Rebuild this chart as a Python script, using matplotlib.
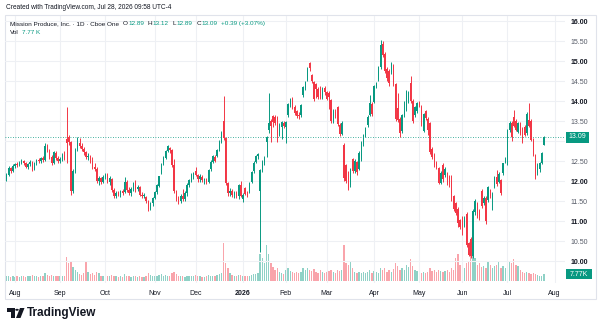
import matplotlib.pyplot as plt
from matplotlib.patches import Rectangle, Circle, Polygon

plt.rcParams['font.family'] = ['Liberation Sans', 'DejaVu Sans']

W, H = 600, 328
UP = '#089981'
DOWN = '#F23645'
DARK = '#131722'
GRID = '#eef0f4'

# daily bars, Jul 28 2025 .. Jul 28 2026
opens = [
    12.05, 12.15, 12.32, 12.25, 12.38, 12.42, 12.40, 12.46, 12.50, 12.44,
    12.36, 12.42, 12.48, 12.30, 12.44, 12.52, 12.50, 12.57, 12.52, 12.88,
    12.78, 12.60, 12.45, 12.70, 12.58, 12.50, 12.55, 12.66, 13.05, 13.10,
    12.98, 11.75, 12.25, 12.80, 12.94, 12.88, 12.80, 12.72, 12.60, 12.62,
    12.50, 12.35, 12.30, 12.00, 12.07, 11.98, 12.10, 12.15, 11.98, 12.05,
    11.78, 11.62, 11.70, 11.66, 11.74, 11.72, 11.98, 11.78, 11.70, 11.80,
    11.95, 11.80, 11.85, 11.66, 11.62, 11.60, 11.50, 11.30, 11.44, 11.58,
    11.72, 11.88, 12.20, 12.45, 12.58, 12.76, 12.82, 12.78, 12.40, 11.75,
    11.55, 11.50, 11.62, 11.56, 11.70, 11.90, 12.00, 12.15, 12.25, 12.15,
    12.05, 12.10, 12.02, 12.05, 11.97, 12.30, 12.48, 12.60, 12.63, 12.80,
    12.98, 13.50, 13.07, 11.95, 11.70, 11.75, 11.65, 11.70, 11.62, 11.90,
    11.55, 11.82, 11.68, 11.74, 11.98, 12.24, 12.48, 12.62, 11.75, 12.27,
    12.45, 12.98, 13.27, 13.50, 13.62, 13.60, 13.60, 13.15, 13.36, 13.45,
    13.36, 13.65, 13.92, 14.05, 13.85, 13.75, 13.66, 13.65, 14.15, 14.32,
    14.52, 14.95, 14.65, 14.48, 14.42, 14.30, 14.36, 14.08, 14.32, 14.22,
    14.20, 14.02, 13.50, 13.72, 13.84, 13.40, 13.18, 12.90, 12.40, 12.22,
    11.90, 12.55, 12.25, 12.48, 12.30, 12.55, 12.92, 13.15, 13.40, 13.65,
    13.92, 13.98, 14.38, 14.55, 14.85, 15.42, 15.18, 14.80, 14.75, 14.72,
    14.88, 14.42, 13.82, 13.55, 13.25, 13.65, 13.78, 14.00, 14.45, 14.00,
    13.65, 13.75, 13.94, 13.86, 13.25, 13.75, 13.56, 13.44, 12.80, 12.65,
    12.45, 12.32, 11.96, 12.40, 12.15, 12.20, 12.12, 12.02, 11.62, 11.45,
    11.30, 11.02, 11.08, 10.88, 11.18, 10.44, 10.55, 10.12, 11.22, 11.44,
    11.25, 11.75, 11.45, 11.58, 11.52, 11.78, 11.52, 11.86, 12.10, 11.98,
    12.02, 12.20, 12.48, 12.44, 13.27, 13.46, 13.60, 13.50, 13.23, 13.44,
    13.30, 13.36, 13.20, 13.52, 13.50, 13.05, 12.65, 12.20, 12.30, 12.45,
    12.89,
]
highs = [
    12.20, 12.38, 12.36, 12.42, 12.46, 12.47, 12.50, 12.55, 12.53, 12.48,
    12.45, 12.52, 12.50, 12.48, 12.56, 12.58, 12.60, 12.62, 12.95, 12.92,
    12.80, 12.64, 12.75, 12.74, 12.62, 12.60, 12.70, 12.75, 13.86, 13.15,
    13.00, 12.30, 12.82, 13.10, 13.08, 12.95, 12.85, 12.76, 12.70, 12.66,
    12.60, 12.45, 12.35, 12.12, 12.10, 12.15, 12.20, 12.20, 12.12, 12.08,
    11.82, 11.75, 11.76, 11.78, 11.80, 12.09, 12.02, 11.84, 11.84, 11.98,
    12.02, 11.90, 11.88, 11.72, 11.70, 11.62, 11.52, 11.47, 11.60, 11.75,
    11.93, 12.13, 12.46, 12.62, 12.78, 12.90, 12.86, 12.80, 12.55, 11.78,
    11.62, 11.68, 11.80, 11.74, 11.95, 12.06, 12.20, 12.23, 12.34, 12.18,
    12.17, 12.15, 12.08, 12.07, 12.30, 12.52, 12.65, 12.65, 12.80, 13.02,
    13.25, 14.12, 13.10, 11.98, 11.82, 11.80, 11.76, 11.74, 11.92, 11.99,
    11.70, 11.86, 11.75, 11.98, 12.25, 12.50, 12.66, 12.70, 12.30, 12.52,
    12.62, 13.12, 14.20, 13.55, 13.66, 13.66, 13.62, 13.44, 13.50, 13.50,
    13.50, 13.96, 14.08, 14.10, 13.90, 13.78, 13.72, 13.93, 14.38, 14.50,
    14.84, 14.98, 14.68, 14.50, 14.45, 14.35, 14.38, 14.34, 14.38, 14.25,
    14.24, 14.05, 13.80, 13.80, 13.88, 13.44, 13.50, 12.94, 12.42, 12.25,
    12.33, 12.58, 12.55, 12.50, 12.75, 13.00, 13.18, 13.35, 13.64, 14.15,
    13.98, 14.40, 14.48, 14.88, 15.52, 15.50, 15.22, 14.85, 14.80, 14.98,
    14.92, 14.45, 14.20, 13.60, 13.68, 14.00, 14.28, 14.25, 14.62, 14.05,
    13.88, 13.98, 14.00, 13.90, 13.70, 13.78, 13.60, 13.48, 12.84, 12.70,
    12.50, 12.35, 12.25, 12.44, 12.34, 12.22, 12.15, 12.15, 11.65, 11.48,
    11.35, 11.06, 11.12, 11.12, 11.22, 10.48, 10.60, 11.30, 11.55, 11.48,
    11.30, 11.80, 11.62, 11.62, 11.88, 11.80, 11.72, 12.12, 12.28, 12.22,
    12.06, 12.46, 12.60, 13.30, 13.50, 13.50, 13.77, 13.54, 13.48, 13.48,
    13.34, 13.40, 13.72, 13.94, 13.54, 13.07, 12.68, 12.44, 12.48, 12.72,
    13.12,
]
lows = [
    12.00, 12.12, 12.20, 12.22, 12.33, 12.36, 12.37, 12.42, 12.40, 12.32,
    12.30, 12.38, 12.25, 12.27, 12.40, 12.46, 12.45, 12.48, 12.50, 12.72,
    12.55, 12.40, 12.42, 12.52, 12.45, 12.46, 12.50, 12.52, 12.45, 12.90,
    11.65, 11.70, 12.20, 12.75, 12.82, 12.75, 12.66, 12.55, 12.52, 12.44,
    12.30, 12.25, 11.95, 11.90, 11.92, 11.94, 12.05, 11.94, 11.90, 11.72,
    11.57, 11.58, 11.62, 11.60, 11.64, 11.70, 11.72, 11.64, 11.63, 11.76,
    11.72, 11.75, 11.62, 11.58, 11.58, 11.45, 11.25, 11.28, 11.38, 11.55,
    11.68, 11.86, 12.18, 12.40, 12.55, 12.72, 12.70, 12.36, 11.70, 11.50,
    11.43, 11.45, 11.50, 11.50, 11.63, 11.85, 11.97, 12.05, 12.12, 11.98,
    11.98, 11.97, 11.93, 11.92, 11.95, 12.26, 12.44, 12.47, 12.60, 12.75,
    12.95, 13.02, 11.90, 11.62, 11.62, 11.60, 11.58, 11.57, 11.55, 11.60,
    11.48, 11.64, 11.60, 11.70, 11.95, 12.20, 12.45, 12.55, 10.22, 12.22,
    12.40, 12.60, 13.20, 12.98, 13.36, 13.40, 12.98, 13.12, 13.05, 13.32,
    12.94, 13.60, 13.85, 13.80, 13.65, 13.58, 13.55, 13.60, 14.10, 14.28,
    14.50, 14.75, 14.45, 14.00, 14.07, 14.06, 14.04, 14.05, 14.15, 14.02,
    13.80, 13.45, 13.45, 13.58, 13.38, 13.12, 13.15, 12.00, 11.95, 11.78,
    11.86, 12.20, 12.20, 12.15, 12.28, 12.50, 12.88, 13.10, 13.36, 13.62,
    13.62, 13.95, 14.32, 14.50, 14.80, 15.10, 14.70, 14.50, 14.38, 14.68,
    14.38, 13.50, 13.48, 13.10, 13.20, 13.60, 13.75, 13.95, 13.95, 13.45,
    13.60, 13.70, 13.84, 13.38, 13.22, 13.52, 13.15, 12.68, 12.55, 12.36,
    12.30, 11.92, 11.92, 11.98, 12.10, 11.90, 11.85, 11.50, 11.25, 11.15,
    10.86, 10.80, 10.65, 10.84, 10.34, 10.12, 10.07, 10.08, 11.15, 11.08,
    11.02, 11.32, 11.40, 10.92, 11.48, 11.58, 11.28, 11.82, 11.88, 11.95,
    11.66, 12.15, 12.44, 12.40, 13.22, 13.00, 13.34, 13.24, 13.20, 13.16,
    12.96, 13.12, 13.16, 13.34, 13.00, 12.62, 12.06, 12.15, 12.22, 12.42,
    12.89,
]
closes = [
    12.15, 12.32, 12.25, 12.38, 12.42, 12.40, 12.46, 12.50, 12.44, 12.35,
    12.42, 12.48, 12.28, 12.44, 12.52, 12.50, 12.57, 12.52, 12.88, 12.78,
    12.60, 12.45, 12.72, 12.58, 12.50, 12.55, 12.66, 12.55, 12.95, 12.98,
    11.75, 12.25, 12.78, 12.94, 12.88, 12.80, 12.72, 12.60, 12.62, 12.48,
    12.35, 12.30, 12.00, 12.07, 11.98, 12.10, 12.15, 11.98, 12.08, 11.78,
    11.62, 11.70, 11.66, 11.74, 11.70, 11.98, 11.78, 11.70, 11.80, 11.95,
    11.80, 11.85, 11.66, 11.62, 11.66, 11.50, 11.30, 11.44, 11.58, 11.72,
    11.90, 12.12, 12.43, 12.58, 12.75, 12.87, 12.78, 12.40, 11.75, 11.55,
    11.50, 11.62, 11.55, 11.70, 11.90, 12.02, 12.15, 12.20, 12.15, 12.05,
    12.12, 12.02, 12.05, 11.95, 12.28, 12.48, 12.62, 12.50, 12.78, 12.98,
    13.20, 13.07, 11.95, 11.70, 11.75, 11.65, 11.70, 11.62, 11.90, 11.62,
    11.66, 11.68, 11.65, 11.96, 12.22, 12.46, 12.62, 12.68, 12.27, 12.48,
    12.57, 13.10, 13.44, 13.38, 13.48, 13.44, 13.15, 13.40, 13.48, 13.38,
    13.48, 13.92, 14.05, 13.85, 13.70, 13.62, 13.62, 13.90, 14.36, 14.48,
    14.80, 14.82, 14.50, 14.05, 14.30, 14.10, 14.08, 14.30, 14.22, 14.05,
    14.10, 13.50, 13.76, 13.62, 13.42, 13.18, 13.46, 12.08, 12.00, 11.82,
    12.30, 12.25, 12.50, 12.22, 12.70, 12.95, 13.15, 13.32, 13.60, 13.95,
    13.68, 14.38, 14.45, 14.85, 15.40, 15.15, 14.75, 14.58, 14.45, 14.92,
    14.42, 13.55, 13.52, 13.20, 13.65, 13.75, 14.25, 14.22, 14.00, 13.50,
    13.85, 13.95, 13.87, 13.42, 13.68, 13.58, 13.28, 12.72, 12.60, 12.40,
    12.35, 11.96, 12.20, 12.05, 12.30, 11.95, 11.92, 11.70, 11.30, 11.20,
    10.95, 10.84, 10.90, 11.08, 10.40, 10.16, 10.12, 11.25, 11.50, 11.12,
    11.07, 11.38, 11.58, 11.00, 11.84, 11.62, 11.68, 12.10, 11.92, 12.18,
    11.70, 12.44, 12.56, 13.27, 13.46, 13.10, 13.38, 13.28, 13.44, 13.20,
    13.00, 13.15, 13.68, 13.38, 13.02, 12.66, 12.12, 12.40, 12.45, 12.70,
    13.09,
]
# volume in thousands of shares
volumes = [
    6, 5, 4, 5, 4, 5, 4, 6, 5, 4,
    5, 6, 7, 6, 5, 4, 5, 6, 9, 7,
    6, 7, 6, 5, 5, 6, 5, 6, 26, 20,
    22, 15, 12, 10, 8, 7, 9, 21, 10, 8,
    9, 7, 10, 9, 6, 6, 5, 6, 5, 7,
    6, 5, 4, 5, 4, 8, 6, 5, 4, 5,
    6, 4, 5, 4, 4, 6, 9, 7, 5, 6,
    6, 7, 8, 6, 7, 6, 6, 9, 10, 8,
    6, 5, 5, 4, 5, 6, 6, 5, 7, 5,
    5, 4, 4, 5, 7, 6, 6, 5, 7, 8,
    9, 42, 20, 14, 9, 7, 6, 6, 7, 7,
    6, 6, 5, 6, 7, 8, 8, 9, 30, 25,
    20, 40, 30, 20, 15, 12, 14, 10, 9, 8,
    12, 14, 11, 10, 9, 10, 9, 10, 14, 12,
    14, 12, 11, 13, 10, 9, 12, 10, 9, 10,
    11, 12, 10, 9, 12, 11, 12, 40, 20, 18,
    22, 14, 10, 9, 10, 9, 10, 9, 10, 12,
    9, 11, 10, 9, 14, 12, 14, 10, 12, 10,
    13, 20, 16, 12, 14, 12, 18, 15, 24, 16,
    12, 11, 10, 9, 10, 9, 10, 14, 11, 12,
    10, 12, 11, 10, 11, 12, 10, 14, 12, 25,
    30, 18, 16, 14, 20, 22, 30, 34, 25, 18,
    20, 15, 16, 14, 22, 18, 14, 16, 18, 22,
    14, 16, 14, 26, 22, 20, 24, 18, 16, 12,
    10, 9, 10, 9, 8, 9, 8, 7, 6, 6,
    7.77,
]
assert len(opens) == len(highs) == len(lows) == len(closes) == len(volumes), \
    (len(opens), len(highs), len(lows), len(closes), len(volumes))

month_labels = ['Aug', 'Sep', 'Oct', 'Nov', 'Dec', '2026', 'Feb', 'Mar',
                'Apr', 'May', 'Jun', 'Jul', 'Aug']
month_bars = [4, 25, 46, 69, 88, 110, 130, 149, 171, 192, 212, 233, 255]
price_ticks = [10.0, 10.5, 11.0, 11.5, 12.0, 12.5, 13.0, 13.5, 14.0, 14.5,
               15.0, 15.5, 16.0]
last_price = 13.09
last_volume = '7.77K'


def fx(x):
    return x / W


def fy(y):
    return 1 - y / H


fig = plt.figure(figsize=(W / 100, H / 100), dpi=100)
ax = fig.add_axes([fx(5), fy(283), 560 / W, 267 / H])
axv = ax.twinx()
ax.set_zorder(2)
axv.set_zorder(1)
ax.patch.set_visible(False)

n = len(closes)
idx = list(range(n))
cols = [UP if c >= o else DOWN for o, c in zip(opens, closes)]

# volume underneath
axv.bar(idx, volumes, width=0.62, color=cols, alpha=0.45, linewidth=0)
axv.set_ylim(-2.2, -2.2 + 267 * 1.1)
axv.axis('off')

# candles
ax.vlines(idx, lows, highs, colors=cols, linewidth=0.7, zorder=3)
bottoms = [min(o, c) for o, c in zip(opens, closes)]
heights = [max(abs(c - o), 0.02) for o, c in zip(opens, closes)]
ax.bar(idx, heights, bottom=bottoms, width=0.62, color=cols, linewidth=0, zorder=4)

ax.axhline(last_price, color=UP, linestyle=(0, (1, 2)), linewidth=0.6, zorder=2)

ax.set_xlim(-0.65, 259.8)
ax.set_ylim(9.45, 16.125)
for s in ax.spines.values():
    s.set_visible(False)

ax.set_xticks(month_bars)
ax.set_xticklabels(month_labels)
ax.tick_params(axis='x', length=0, pad=5, labelsize=5, labelcolor=DARK)
for t in ax.get_xticklabels():
    if t.get_text() == '2026':
        t.set_fontweight('bold')

# 13.00 sits under the last-price tag, so its label is not shown
ax.yaxis.tick_right()
ax.set_yticks(price_ticks)
ax.set_yticklabels(['' if abs(p - 13.0) < 1e-9 else '%.2f' % p for p in price_ticks])
ax.tick_params(axis='y', length=0, pad=4, labelsize=5)
for p, t in zip(price_ticks, ax.get_yticklabels()):
    if p == int(p):
        t.set_fontweight('bold')
        t.set_color(DARK)
    else:
        t.set_color('#555a66')

ax.grid(True, color=GRID, linewidth=0.8, zorder=0)
ax.set_axisbelow(True)

# frame around the chart
fig.patches.append(Rectangle((fx(4.5), fy(299)), 591.5 / W, 284 / H,
                             transform=fig.transFigure, fill=False,
                             edgecolor='#e0e3eb', linewidth=0.8, zorder=1))

# price and volume tags on the right scale
for yc, h, w, label in [(137, 11, 23, last_price), (274, 10.5, 26, last_volume)]:
    fig.patches.append(Rectangle((fx(566), fy(yc + h / 2)), w / W, h / H,
                                 transform=fig.transFigure, facecolor=UP,
                                 edgecolor='none', zorder=5))
    txt = '%.2f' % label if isinstance(label, float) else label
    fig.text(fx(566 + w / 2), fy(yc), txt, color='white', fontsize=5,
             ha='center', va='center', zorder=6)

fig.text(fx(6), fy(7.5), 'Created with TradingView.com, Jul 28, 2026 09:58 UTC-4',
         fontsize=4.7, color=DARK, va='center')

renderer = fig.canvas.get_renderer()


def put_row(x, y, parts):
    for txt, col, gap in parts:
        t = fig.text(fx(x), fy(y), txt, color=col, fontsize=4.6, va='center', ha='left')
        x += t.get_window_extent(renderer).width + gap


put_row(10, 23.5, [
    ('Mission Produce, Inc. · 1D · Cboe One', DARK, 3.5),
    ('O', DARK, 0.8), ('12.89', UP, 3.5),
    ('H', DARK, 0.8), ('13.12', UP, 3.5),
    ('L', DARK, 0.8), ('12.89', UP, 3.5),
    ('C', DARK, 0.8), ('13.09', UP, 3.5),
    ('+0.39 (+3.07%)', UP, 0),
])
put_row(10, 32.5, [('Vol', DARK, 3), ('7.77 K', UP, 0)])

# TradingView logo
logo = [
    Rectangle((fx(7), fy(311.5)), 7.5 / W, 3.5 / H),
    Rectangle((fx(11), fy(318)), 3.5 / W, 10 / H),
    Circle((fx(17), fy(309.8)), 1.8 / W),
    Polygon([(fx(20), fy(308)), (fx(24.5), fy(308)), (fx(20.5), fy(318)), (fx(16), fy(318))]),
]
for p in logo:
    p.set_transform(fig.transFigure)
    p.set_facecolor('#131722')
    p.set_edgecolor('none')
    fig.patches.append(p)
fig.text(fx(27), fy(313), 'TradingView', fontsize=8.5, fontweight='bold',
         color='#131722', va='center')

fig.savefig('out.png', dpi=100)
